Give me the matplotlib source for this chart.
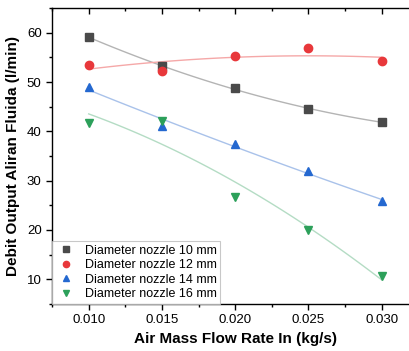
import numpy as np
import matplotlib
matplotlib.use("Agg")
import matplotlib.pyplot as plt
from matplotlib.ticker import MultipleLocator

plt.rcParams['font.family'] = ['Liberation Sans', 'DejaVu Sans']

# data
flow = [0.010, 0.015, 0.020, 0.025, 0.030]
d10 = [59.1, 53.2, 48.7, 44.5, 41.9]
d12 = [53.5, 52.3, 55.2, 56.9, 54.2]
d14 = [49.0, 41.1, 37.5, 32.0, 25.8]
d16 = [41.7, 42.1, 26.6, 20.0, 10.7]
labels = ["Diameter nozzle 10 mm", "Diameter nozzle 12 mm",
          "Diameter nozzle 14 mm", "Diameter nozzle 16 mm"]

series = [d10, d12, d14, d16]
markers = ['s', 'o', '^', 'v']
colors = ['#4a4a4a', '#e8383b', '#2468d0', '#2ca05a']
fitcolors = ['#b4b4b4', '#f5a8a8', '#a9c2ea', '#b4dcc4']

fig = plt.figure(figsize=(4.10, 3.51), dpi=100)
ax = fig.add_axes([0.127, 0.134, 0.893, 0.843])

x = np.array(flow)
xs = np.linspace(x.min(), x.max(), 100)
for ys, m, c, fc, lab in zip(series, markers, colors, fitcolors, labels):
    p = np.polyfit(x, ys, 2)
    ax.plot(xs, np.polyval(p, xs), color=fc, lw=1.0, zorder=1)
    ax.plot(x, ys, ls='none', marker=m, color=c, ms=6, label=lab, zorder=3)

ax.set_xlim(0.0075, 0.0325)
ax.set_ylim(5, 65)
ax.xaxis.set_major_locator(MultipleLocator(0.005))
ax.xaxis.set_minor_locator(MultipleLocator(0.0025))
ax.yaxis.set_major_locator(MultipleLocator(10))
ax.yaxis.set_minor_locator(MultipleLocator(5))
ax.set_xticks([0.010, 0.015, 0.020, 0.025, 0.030])
ax.set_xticklabels(["0.010", "0.015", "0.020", "0.025", "0.030"])
ax.set_yticks([10, 20, 30, 40, 50, 60])

ax.tick_params(which='both', direction='out', labelsize=9.5, width=1.0)
ax.tick_params(which='major', length=4)
ax.tick_params(which='minor', length=2.5)
ax.xaxis.set_ticks_position('both')
for t in ax.xaxis.get_major_ticks() + ax.xaxis.get_minor_ticks():
    t.tick2line.set_marker(3)  # top ticks point into the plot
ax.spines['right'].set_visible(False)
for sp in ax.spines.values():
    sp.set_linewidth(1.0)

ax.set_xlabel("Air Mass Flow Rate In (kg/s)", fontsize=11, fontweight='bold', labelpad=4)
ax.set_ylabel("Debit Output Aliran Fluida (l/min)", fontsize=11, fontweight='bold', labelpad=5)

leg = ax.legend(loc='lower left', fontsize=9, frameon=True, fancybox=False,
                borderaxespad=0.0, handletextpad=0.7, labelspacing=0.2,
                handlelength=1.6, borderpad=0.3, markerscale=0.75)
leg.get_frame().set_edgecolor('#bbbbbb')
leg.get_frame().set_linewidth(0.8)

fig.savefig("out.png", dpi=100)
